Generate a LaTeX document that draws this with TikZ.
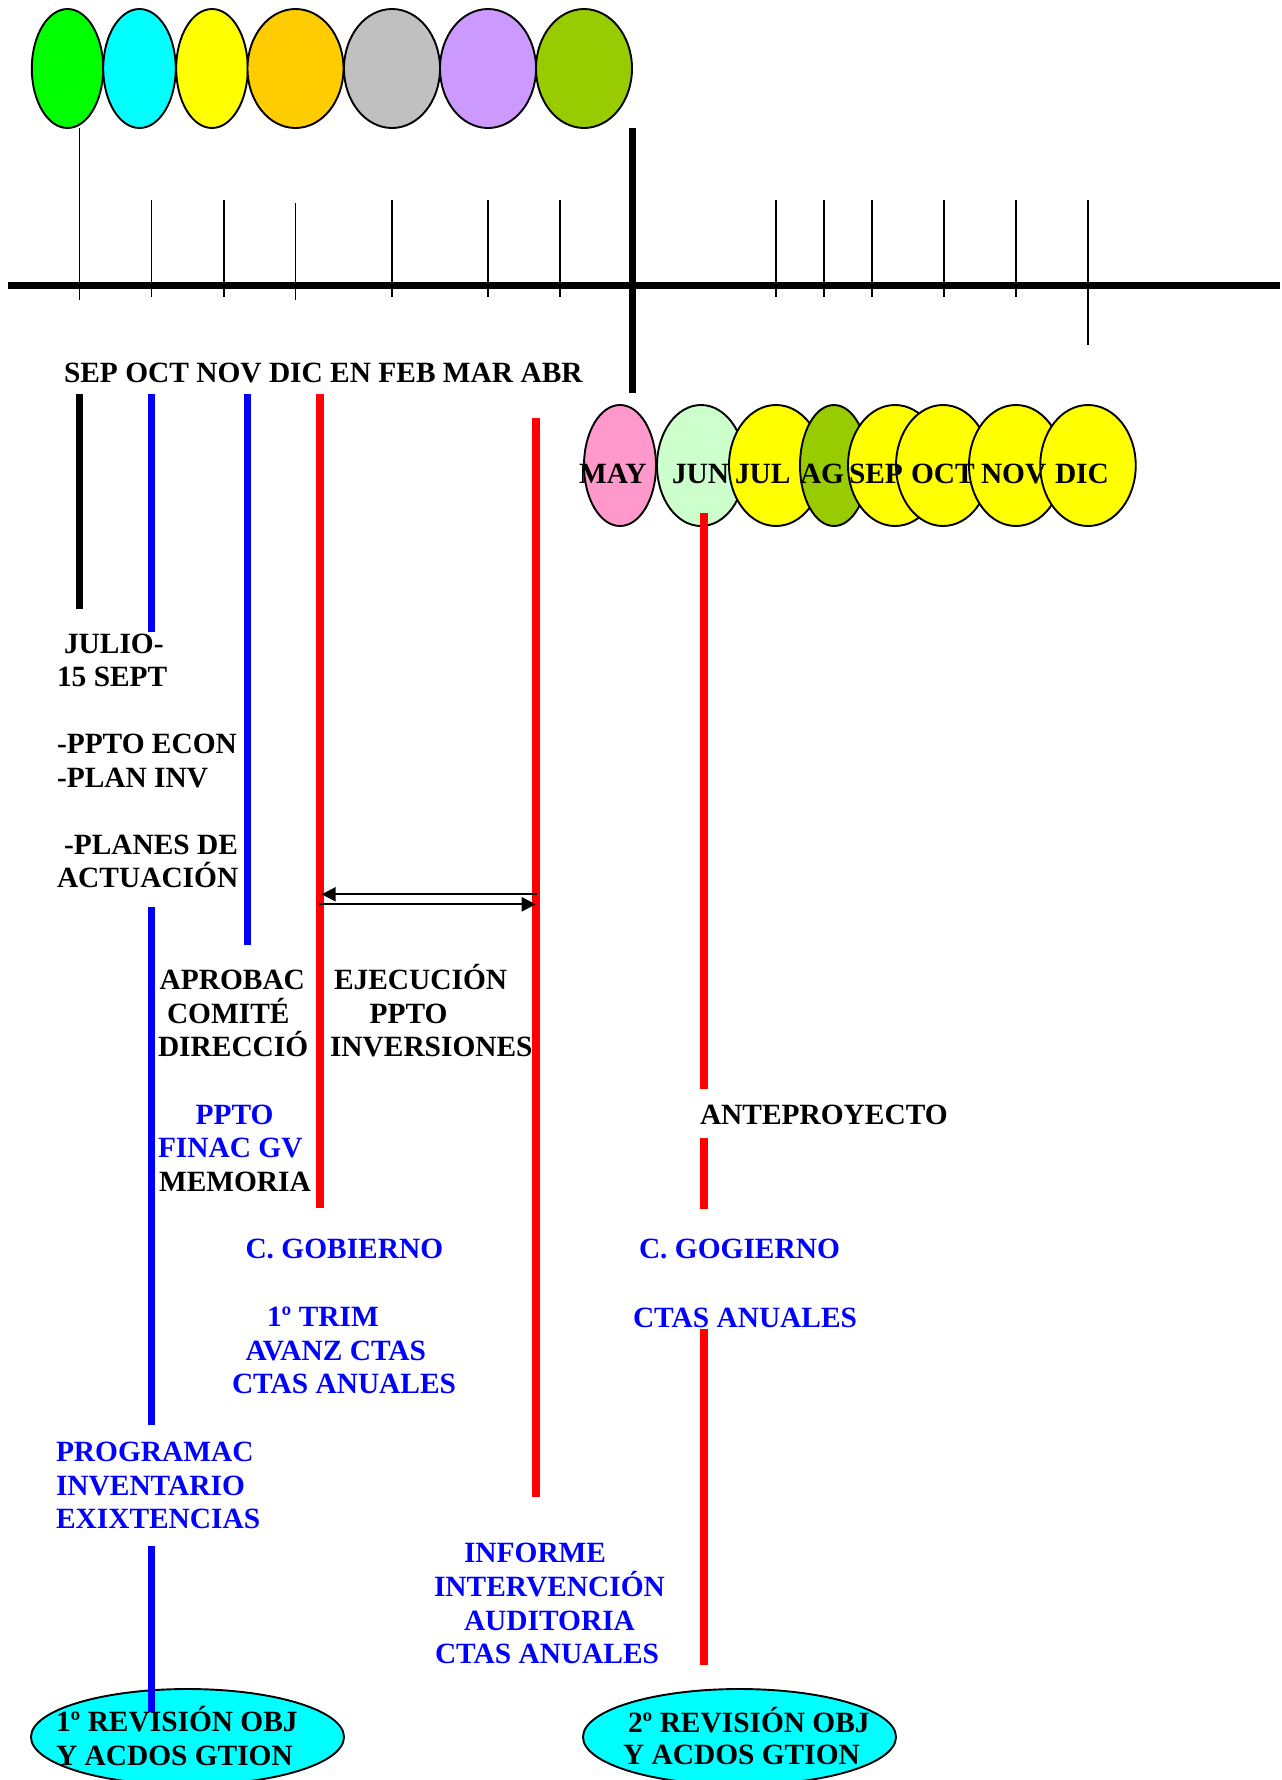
\documentclass[tikz,border=0pt]{standalone}
\usepackage{fontspec}
\setmainfont{Liberation Serif}
\usetikzlibrary{shapes.geometric,arrows.meta}
\definecolor{cgreen}{HTML}{00FF00}
\definecolor{ccyan}{HTML}{00FFFF}
\definecolor{cyellow}{HTML}{FFFF00}
\definecolor{corange}{HTML}{FFCC00}
\definecolor{cgray}{HTML}{C0C0C0}
\definecolor{cpurple}{HTML}{CC99FF}
\definecolor{colive}{HTML}{99CC00}
\definecolor{cpink}{HTML}{FF99CC}
\definecolor{clight}{HTML}{CCFFCC}
\definecolor{cblue}{HTML}{0000FF}
\definecolor{cred}{HTML}{FF0000}
\tikzset{
  lbl/.style={anchor=base west, inner sep=0pt, outer sep=0pt, text=black},
  blbl/.style={lbl, text=cblue},
  mon/.style={ellipse, draw=black, line width=1.9pt, inner sep=0pt, minimum height=119pt},
  monb/.style={ellipse, draw=black, line width=1.9pt, inner sep=0pt, minimum height=121pt},
  rev/.style={ellipse, draw=black, line width=1.9pt, inner sep=0pt, fill=ccyan, minimum width=313pt, minimum height=96pt},
  axisline/.style={line width=7pt, black},
  tickline/.style={line width=1.8pt, black},
  barline/.style={line width=7.3pt},
  arr/.style={line width=2.3pt, -{Triangle[length=14pt,width=14pt]}}
}
\begin{document}
\begin{tikzpicture}[x=1pt,y=-1pt,font=\fontsize{29.4}{33.5}\selectfont\bfseries]
\useasboundingbox (0,0) rectangle (1282,1780);
\fill[white] (0,0) rectangle (1282,1780);

% top month ellipses
\node[mon, fill=cgreen,  minimum width=71.4pt] (e1) at (67.5,68.5) {};
\node[mon, fill=ccyan,   minimum width=72.5pt] (e2) at (139.5,68.5) {};
\node[mon, fill=cyellow, minimum width=71.6pt] (e3) at (212,68.5) {};
\node[mon, fill=corange, minimum width=96pt] (e4) at (295.5,68.5) {};
\node[mon, fill=cgray,   minimum width=96pt] (e5) at (392,68.5) {};
\node[mon, fill=cpurple, minimum width=96pt] (e6) at (488,68.5) {};
\node[mon, fill=colive,  minimum width=96pt] (e7) at (584,68.5) {};

% axis
\draw[axisline] (8,285.5) -- (1280,285.5);
% ticks
\draw[tickline] (79.5,128) -- (79.5,300);
\draw[tickline] (151.5,200) -- (151.5,297);
\draw[tickline] (224,200) -- (224,297);
\draw[tickline] (295.5,203) -- (295.5,300);
\draw[tickline] (392,200) -- (392,297);
\draw[tickline] (488,200) -- (488,297);
\draw[tickline] (560,200) -- (560,297);
\draw[tickline] (776,200) -- (776,297);
\draw[tickline] (824,200) -- (824,297);
\draw[tickline] (872,200) -- (872,297);
\draw[tickline] (944,200) -- (944,297);
\draw[tickline] (1016,200) -- (1016,297);
\draw[tickline] (1088,200) -- (1088,345);
\draw[line width=7.5pt] (632.5,128) -- (632.5,393);

% second-year month ellipses
\node[monb, fill=cpink,   minimum width=72pt] (m1) at (620,465.5) {};
\node[monb, fill=clight,  minimum width=88pt] (m2) at (701,465.5) {};
\node[monb, fill=cyellow, minimum width=94pt] (m3) at (776,465.5) {};
\node[monb, fill=colive,  minimum width=68pt] (m4) at (834,465.5) {};
\node[monb, fill=cyellow, minimum width=94pt] (m5) at (895,465.5) {};
\node[monb, fill=cyellow, minimum width=94pt] (m6) at (943,465.5) {};
\node[monb, fill=cyellow, minimum width=94pt] (m7) at (1016,465.5) {};
\node[monb, fill=cyellow, minimum width=95.5pt] (m8) at (1088,465.5) {};

% bottom review ellipses
\node[rev] (r1) at (187.5,1737) {};
\node[rev] (r2) at (739.5,1737) {};

% bars
\draw[barline, black] (79.5,394) -- (79.5,609);
\draw[barline, cblue] (151.5,394) -- (151.5,632);
\draw[barline, cblue] (247.5,394) -- (247.5,945);
\draw[barline, cred] (320,394) -- (320,1208);
\draw[barline, cred] (536,418) -- (536,1497);
\draw[barline, cblue] (151.5,907) -- (151.5,1425);
\draw[barline, cblue] (151.5,1546) -- (151.5,1712);
\draw[barline, cred] (704,513) -- (704,1088.5);
\draw[barline, cred] (704,1137.5) -- (704,1209);
\draw[barline, cred] (704,1329) -- (704,1664.5);

% arrows between the red bars
\coordinate (aR1) at (536.7,894.3);
\coordinate (aL1) at (321.7,894.3);
\coordinate (aL2) at (319,904.3);
\coordinate (aR2) at (535.7,904.3);
\draw[arr] (aR1) -- (aL1);
\draw[arr] (aL2) -- (aR2);

% month labels
\node[lbl] (t00) at (64,382) {SEP OCT NOV DIC EN FEB MAR ABR};
\node[lbl] (t01) at (579,483) {MAY};
\node[lbl] (t02) at (672,483) {JUN};
\node[lbl] (t03) at (735,483) {JUL};
\node[lbl] (t04) at (800,483) {AG};
\node[lbl] (t05) at (849,483) {SEP};
\node[lbl] (t06) at (911,483) {OCT};
\node[lbl] (t07) at (981,483) {NOV};
\node[lbl] (t08) at (1055,483) {DIC};

% left block
\node[lbl] (t10) at (64,653) {JULIO-};
\node[lbl] (t11) at (57,686.5) {15 SEPT};
\node[lbl] (t12) at (57,753.5) {-PPTO ECON};
\node[lbl] (t13) at (57,787) {-PLAN INV};
\node[lbl] (t14) at (64,854) {-PLANES DE};
\node[lbl] (t15) at (57,887.5) {ACTUACIÓN};

% middle block
\node[lbl] (t20) at (159.6,989.5) {APROBAC};
\node[lbl] (t21) at (167,1023) {COMITÉ};
\node[lbl] (t22) at (158,1056.7) {DIRECCIÓ};
\node[blbl] (t23) at (195.7,1124) {PPTO};
\node[blbl] (t24) at (158,1157.5) {FINAC GV};
\node[lbl] (t25) at (159,1191) {MEMORIA};

\node[lbl] (t30) at (334,989.5) {EJECUCIÓN};
\node[lbl] (t31) at (369.6,1023) {PPTO};
\node[lbl] (t32) at (330,1056.7) {INVERSIONES};

\node[blbl] (t40) at (245.5,1258.5) {C. GOBIERNO};
\node[blbl] (t41) at (267,1326.5) {1º TRIM};
\node[blbl] (t42) at (245.5,1360) {AVANZ CTAS};
\node[blbl] (t43) at (232,1393.5) {CTAS ANUALES};

\node[blbl] (t50) at (56,1461.6) {PROGRAMAC};
\node[blbl] (t51) at (56,1495) {INVENTARIO};
\node[blbl] (t52) at (56,1528.5) {EXIXTENCIAS};

\node[blbl] (t60) at (464,1562.5) {INFORME};
\node[blbl] (t61) at (434,1596.5) {INTERVENCIÓN};
\node[blbl] (t62) at (464,1630) {AUDITORIA};
\node[blbl] (t63) at (435,1663) {CTAS ANUALES};

\node[lbl] (t70) at (700,1124.5) {ANTEPROYECTO};
\node[blbl] (t71) at (639,1258.5) {C. GOGIERNO};
\node[blbl] (t72) at (633,1327) {CTAS ANUALES};

\node[lbl] (t80) at (56,1731.6) {1º REVISIÓN OBJ};
\node[lbl] (t81) at (56,1765) {Y ACDOS GTION};
\node[lbl] (t82) at (628,1732) {2º REVISIÓN OBJ};
\node[lbl] (t83) at (623,1764.6) {Y ACDOS GTION};
\end{tikzpicture}
\end{document}
